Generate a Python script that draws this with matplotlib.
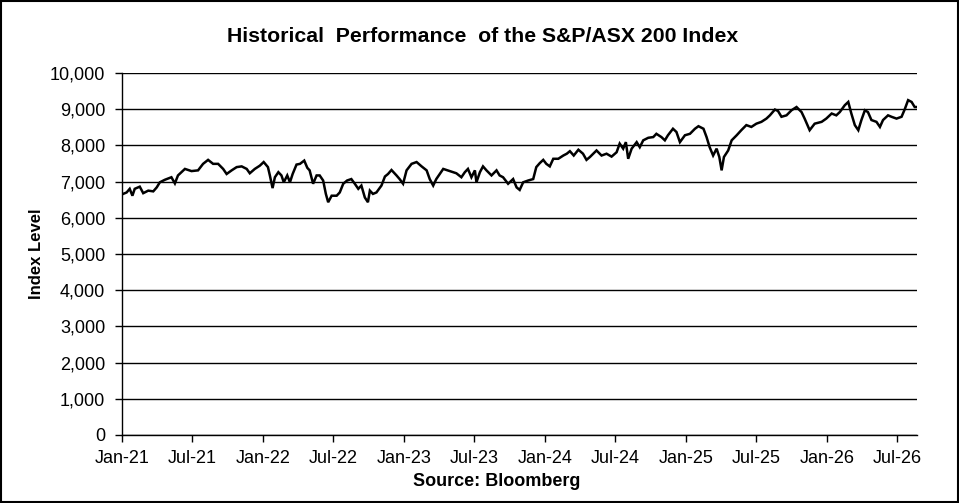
import numpy as np
import pandas as pd
import matplotlib
matplotlib.use("Agg")
import matplotlib.pyplot as plt
import matplotlib.dates as mdates
from matplotlib.ticker import FuncFormatter, MultipleLocator
from matplotlib.patches import Rectangle

plt.rcParams['font.family'] = ['Liberation Sans', 'DejaVu Sans']

# readings taken off the chart (date, index level)
dates = [
    "2021-01-04", "2021-01-13", "2021-01-21", "2021-01-28", "2021-02-03", "2021-02-16",
    "2021-02-25", "2021-03-10", "2021-03-23", "2021-04-01", "2021-04-09", "2021-04-22",
    "2021-05-09", "2021-05-18", "2021-05-26", "2021-06-13", "2021-06-30", "2021-07-17",
    "2021-07-30", "2021-08-12", "2021-08-25", "2021-09-07", "2021-09-20", "2021-09-29",
    "2021-10-12", "2021-10-25", "2021-11-07", "2021-11-20", "2021-11-28", "2021-12-11",
    "2021-12-24", "2022-01-03", "2022-01-14", "2022-01-19", "2022-01-26", "2022-02-01",
    "2022-02-10", "2022-02-18", "2022-02-24", "2022-03-05", "2022-03-12", "2022-03-19",
    "2022-03-29", "2022-04-07", "2022-04-18", "2022-04-26", "2022-05-02", "2022-05-11",
    "2022-05-20", "2022-05-28", "2022-06-06", "2022-06-13", "2022-06-19", "2022-06-28",
    "2022-07-11", "2022-07-19", "2022-07-28", "2022-08-07", "2022-08-18", "2022-08-27",
    "2022-09-05", "2022-09-13", "2022-09-22", "2022-09-30", "2022-10-05", "2022-10-13",
    "2022-10-22", "2022-11-04", "2022-11-13", "2022-11-21", "2022-11-30", "2022-12-13",
    "2022-12-21", "2022-12-30", "2023-01-08", "2023-01-21", "2023-02-03", "2023-02-16",
    "2023-03-01", "2023-03-09", "2023-03-18", "2023-03-26", "2023-04-13", "2023-04-30",
    "2023-05-17", "2023-05-30", "2023-06-08", "2023-06-16", "2023-06-25", "2023-07-04",
    "2023-07-08", "2023-07-17", "2023-07-25", "2023-08-03", "2023-08-16", "2023-08-29",
    "2023-09-06", "2023-09-15", "2023-09-28", "2023-10-11", "2023-10-20", "2023-10-28",
    "2023-11-06", "2023-11-19", "2023-12-02", "2023-12-10", "2023-12-19", "2023-12-28",
    "2024-01-05", "2024-01-14", "2024-01-23", "2024-02-05", "2024-02-18", "2024-02-27",
    "2024-03-06", "2024-03-16", "2024-03-28", "2024-04-09", "2024-04-18", "2024-04-27",
    "2024-05-14", "2024-05-27", "2024-06-09", "2024-06-22", "2024-07-05", "2024-07-13",
    "2024-07-22", "2024-07-29", "2024-08-04", "2024-08-13", "2024-08-26", "2024-09-03",
    "2024-09-12", "2024-09-25", "2024-10-08", "2024-10-16", "2024-10-29", "2024-11-07",
    "2024-11-15", "2024-11-28", "2024-12-07", "2024-12-16", "2024-12-29", "2025-01-11",
    "2025-01-24", "2025-02-02", "2025-02-15", "2025-02-23", "2025-03-03", "2025-03-12",
    "2025-03-21", "2025-03-28", "2025-04-03", "2025-04-09", "2025-04-20", "2025-04-29",
    "2025-05-12", "2025-05-24", "2025-06-06", "2025-06-19", "2025-07-02", "2025-07-15",
    "2025-07-28", "2025-08-06", "2025-08-19", "2025-08-27", "2025-09-05", "2025-09-18",
    "2025-10-01", "2025-10-14", "2025-10-27", "2025-11-04", "2025-11-17", "2025-11-30",
    "2025-12-18", "2025-12-30", "2026-01-13", "2026-01-25", "2026-02-03", "2026-02-16",
    "2026-02-25", "2026-03-05", "2026-03-14", "2026-03-23", "2026-03-31", "2026-04-09",
    "2026-04-17", "2026-04-26", "2026-05-09", "2026-05-18", "2026-05-26", "2026-06-08",
    "2026-06-17", "2026-06-30", "2026-07-13", "2026-07-21", "2026-07-30", "2026-08-08",
    "2026-08-16", "2026-08-21",
]
index_level = [
    6660, 6700, 6800, 6610, 6800, 6860,
    6680, 6750, 6730, 6840, 6980, 7050,
    7120, 6950, 7170, 7350, 7290, 7310,
    7490, 7600, 7490, 7490, 7350, 7210,
    7310, 7400, 7420, 7350, 7230, 7350,
    7440, 7540, 7400, 7170, 6820, 7120,
    7260, 7170, 6980, 7170, 6980, 7210,
    7470, 7490, 7580, 7380, 7310, 6940,
    7170, 7170, 7030, 6660, 6430, 6610,
    6610, 6700, 6940, 7030, 7070, 6940,
    6800, 6890, 6560, 6430, 6750, 6660,
    6700, 6890, 7140, 7210, 7320, 7170,
    7070, 6940, 7310, 7490, 7540, 7420,
    7310, 7070, 6890, 7070, 7350, 7290,
    7230, 7120, 7260, 7350, 7120, 7310,
    6980, 7260, 7420, 7310, 7170, 7310,
    7170, 7120, 6940, 7070, 6840, 6770,
    6980, 7030, 7070, 7400, 7510, 7600,
    7490, 7420, 7630, 7630, 7720, 7770,
    7840, 7720, 7880, 7770, 7600, 7680,
    7860, 7720, 7770, 7690, 7810, 8050,
    7910, 8090, 7630, 7910, 8090, 7950,
    8140, 8210, 8230, 8320, 8230, 8140,
    8280, 8460, 8370, 8090, 8280, 8320,
    8460, 8530, 8460, 8230, 7950, 7720,
    7910, 7680, 7310, 7680, 7860, 8140,
    8280, 8420, 8560, 8510, 8600, 8650,
    8740, 8830, 8990, 8950, 8790, 8830,
    8970, 9060, 8920, 8740, 8420, 8600,
    8650, 8740, 8880, 8830, 8920, 9110,
    9200, 8880, 8560, 8420, 8700, 8970,
    8920, 8700, 8650, 8510, 8700, 8830,
    8790, 8740, 8790, 8990, 9250, 9200,
    9060, 9060,
]
x_ticks = pd.date_range("2021-01-01", "2026-07-01", freq="6MS")

df = pd.DataFrame({"date": pd.to_datetime(dates), "level": index_level})

fig = plt.figure(figsize=(9.59, 5.03), dpi=100)
ax = fig.add_axes([0.1272, 0.1352, 0.8290, 0.7197])

ax.plot(df["date"], df["level"], color="black", linewidth=1.8, solid_joinstyle="miter")

ax.set_ylim(0, 10000)
ax.set_xlim(pd.Timestamp("2021-01-01"), pd.Timestamp("2026-08-22"))
ax.yaxis.set_major_locator(MultipleLocator(1000))
ax.yaxis.set_major_formatter(FuncFormatter(lambda v, p: "{:,.0f}".format(v)))
ax.set_xticks(x_ticks)
ax.xaxis.set_major_formatter(mdates.DateFormatter("%b-%y"))

ax.grid(axis="y", color="black", linewidth=1.0)
ax.set_axisbelow(True)
for side in ["top", "right"]:
    ax.spines[side].set_visible(False)
ax.spines["left"].set_linewidth(1.0)
ax.spines["bottom"].set_linewidth(1.0)
ax.tick_params(axis="both", direction="out", length=5, width=1.0, labelsize=13, colors="black")
ax.tick_params(axis="y", pad=7)
ax.tick_params(axis="x", pad=6)

ax.set_ylabel("Index Level", fontsize=12, fontweight="bold", labelpad=4)
fig.text(0.503, 0.928, "Historical  Performance  of the S&P/ASX 200 Index",
         ha="center", va="center", fontsize=15.3, fontweight="bold")
fig.text(0.518, 0.043, "Source: Bloomberg", ha="center", va="center",
         fontsize=13, fontweight="bold")

fig.patches.append(Rectangle((0.001, 0.001), 0.998, 0.998, transform=fig.transFigure,
                             fill=False, edgecolor="black", linewidth=1.5))

fig.savefig("out.png", dpi=100)
